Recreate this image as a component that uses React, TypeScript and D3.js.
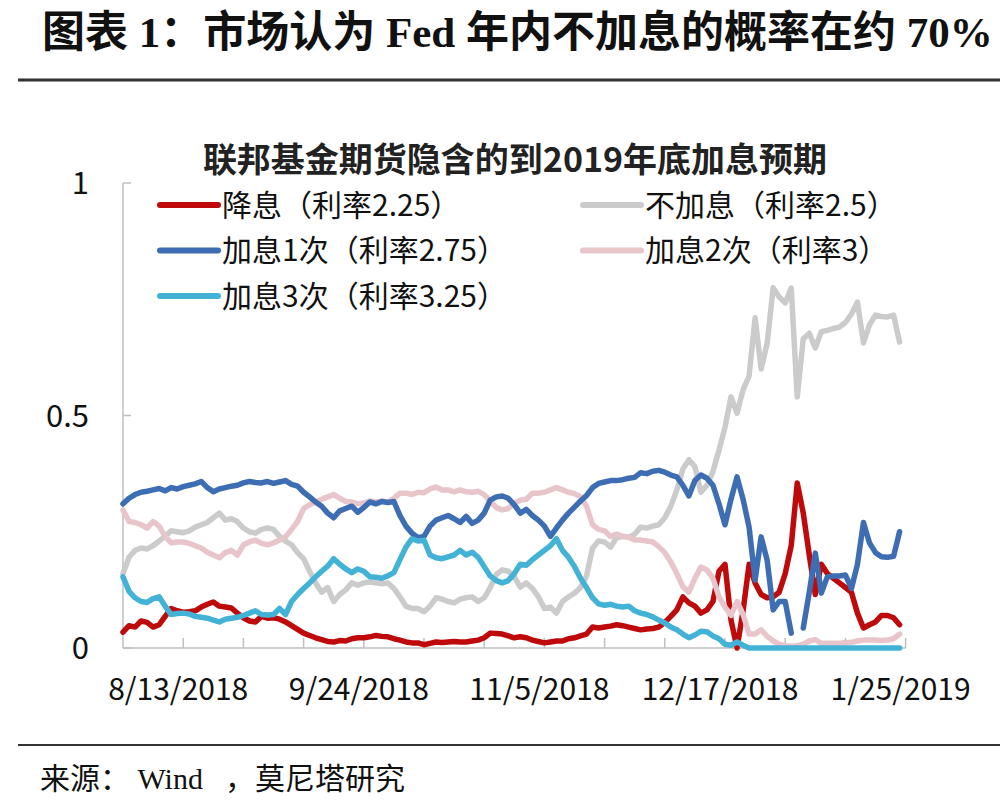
import React from "react";
import * as d3 from "d3";

// ---- data ----
const tickLabels = ["8/13/2018", "9/24/2018", "11/5/2018", "12/17/2018", "1/25/2019"];
const tickLabelIndex = [10, 40, 70, 100, 130];
const yTicks = [0, 0.5, 1];
const yTickLabels = ["0", "0.5", "1"];

// 降息（利率2.25）
const cutRate: (number | null)[] = [
  0.034, 0.048, 0.045, 0.058, 0.055, 0.045, 0.05, 0.068, 0.085, 0.08,
  0.077, 0.078, 0.08, 0.088, 0.094, 0.099, 0.09, 0.088, 0.086, 0.075,
  0.065, 0.058, 0.056, 0.068, 0.064, 0.065, 0.062, 0.056, 0.048, 0.04,
  0.032, 0.027, 0.022, 0.018, 0.014, 0.013, 0.016, 0.015, 0.02, 0.022,
  0.022, 0.024, 0.027, 0.025, 0.024, 0.02, 0.017, 0.013, 0.011, 0.011,
  0.007, 0.01, 0.013, 0.012, 0.013, 0.014, 0.013, 0.013, 0.015, 0.017,
  0.022, 0.032, 0.031, 0.03, 0.026, 0.022, 0.024, 0.022, 0.017, 0.014,
  0.011, 0.013, 0.015, 0.015, 0.02, 0.022, 0.026, 0.03, 0.045, 0.043,
  0.045, 0.047, 0.05, 0.048, 0.045, 0.042, 0.039, 0.041, 0.042, 0.045,
  0.055, 0.068, 0.082, 0.11, 0.097, 0.09, 0.075, 0.082, 0.1, 0.165,
  0.18, 0.06, 0.0, 0.08, 0.18, 0.14, 0.115, 0.108, 0.11, 0.12,
  0.16, 0.22, 0.355, 0.29, 0.2, 0.115, 0.18, 0.16, 0.15, 0.14,
  0.13, 0.12, 0.075, 0.043, 0.05, 0.056, 0.07, 0.07, 0.065, 0.05,
];

// 不加息（利率2.5）
const noHike: (number | null)[] = [
  0.16, 0.195, 0.21, 0.215, 0.213, 0.22, 0.23, 0.24, 0.252, 0.25,
  0.248, 0.252, 0.26, 0.265, 0.27, 0.28, 0.29, 0.275, 0.278, 0.272,
  0.258, 0.25, 0.247, 0.255, 0.258, 0.255, 0.24, 0.23, 0.222, 0.205,
  0.192, 0.165, 0.14, 0.12, 0.13, 0.1, 0.115, 0.125, 0.14, 0.135,
  0.14, 0.142, 0.14, 0.138, 0.14, 0.128, 0.11, 0.09, 0.085, 0.085,
  0.078, 0.09, 0.108, 0.105, 0.1, 0.097, 0.105, 0.108, 0.11, 0.1,
  0.108, 0.13, 0.158, 0.168, 0.165, 0.153, 0.131, 0.14, 0.128, 0.11,
  0.085, 0.088, 0.075, 0.1, 0.11, 0.118, 0.13, 0.155, 0.215, 0.23,
  0.228, 0.217, 0.237, 0.24, 0.238, 0.245, 0.26, 0.258, 0.262, 0.265,
  0.28, 0.305, 0.34, 0.385, 0.405, 0.39, 0.335, 0.35, 0.38, 0.425,
  0.475, 0.54, 0.505, 0.555, 0.585, 0.71, 0.6, 0.655, 0.775, 0.755,
  0.742, 0.774, 0.54, 0.665, 0.677, 0.645, 0.68, 0.683, 0.687, 0.69,
  0.7, 0.718, 0.744, 0.656, 0.695, 0.716, 0.713, 0.712, 0.716, 0.658,
];

// 加息1次（利率2.75）
const hikeOnce: (number | null)[] = [
  0.31, 0.322, 0.33, 0.335, 0.337, 0.34, 0.343, 0.338, 0.345, 0.342,
  0.347, 0.35, 0.353, 0.358, 0.345, 0.336, 0.342, 0.345, 0.348, 0.35,
  0.355, 0.358, 0.356, 0.355, 0.358, 0.354, 0.357, 0.36, 0.352, 0.348,
  0.335, 0.325, 0.314, 0.305, 0.29, 0.28, 0.295, 0.3, 0.305, 0.292,
  0.302, 0.314, 0.31, 0.315, 0.313, 0.315, 0.285, 0.262, 0.247, 0.237,
  0.24, 0.262, 0.275, 0.28, 0.285, 0.278, 0.27, 0.283, 0.268, 0.275,
  0.29, 0.318, 0.325, 0.327, 0.322, 0.308, 0.29, 0.298, 0.285, 0.275,
  0.262, 0.24, 0.258, 0.275, 0.29, 0.303, 0.316, 0.328, 0.345, 0.354,
  0.357, 0.36, 0.36, 0.362, 0.365, 0.367, 0.377, 0.375, 0.38, 0.382,
  0.378, 0.372, 0.368, 0.35, 0.327, 0.36, 0.372, 0.365, 0.35, 0.31,
  0.265, 0.32, 0.368, 0.32, 0.26, 0.146, 0.239, 0.189, 0.082, 0.1,
  0.1, 0.032, null, 0.043, 0.12, 0.204, 0.118, 0.153, 0.155, 0.155,
  0.157, 0.128, 0.18, 0.27, 0.226, 0.205, 0.196, 0.195, 0.197, 0.25,
];

// 加息2次（利率3）
const hikeTwice: (number | null)[] = [
  0.297, 0.272, 0.27, 0.265, 0.258, 0.272, 0.262, 0.24, 0.226, 0.228,
  0.228, 0.225, 0.22, 0.215, 0.206, 0.2, 0.194, 0.205, 0.21, 0.2,
  0.222, 0.228, 0.232, 0.225, 0.222, 0.226, 0.232, 0.239, 0.255, 0.272,
  0.3, 0.308, 0.314, 0.32, 0.325, 0.33, 0.322, 0.315, 0.314, 0.31,
  0.312, 0.316, 0.314, 0.316, 0.314, 0.322, 0.333, 0.333, 0.33, 0.335,
  0.334, 0.342, 0.346, 0.34, 0.34, 0.336, 0.34, 0.336, 0.335, 0.337,
  0.33, 0.316, 0.302, 0.297, 0.3, 0.312, 0.318, 0.32, 0.333, 0.333,
  0.335, 0.34, 0.345, 0.34, 0.335, 0.332, 0.325, 0.305, 0.265, 0.255,
  0.252, 0.24, 0.245, 0.24, 0.238, 0.232, 0.232, 0.23, 0.228, 0.218,
  0.205, 0.185, 0.16, 0.132, 0.12, 0.15, 0.174, 0.168, 0.15, 0.11,
  0.088, 0.07, 0.1, 0.072, 0.03, 0.03, 0.039, 0.025, 0.015, 0.008,
  0.005, 0.004, 0.005, 0.008, 0.015, 0.018, 0.01, 0.01, 0.01, 0.01,
  0.012, 0.012, 0.015, 0.017, 0.017, 0.017, 0.016, 0.017, 0.02, 0.03,
];

// 加息3次（利率3.25）
const hikeThrice: (number | null)[] = [
  0.153, 0.122, 0.108, 0.1, 0.098, 0.106, 0.11, 0.09, 0.072, 0.074,
  0.075, 0.073, 0.068, 0.066, 0.064, 0.06, 0.056, 0.062, 0.064, 0.066,
  0.07, 0.075, 0.08, 0.072, 0.071, 0.072, 0.085, 0.072, 0.1, 0.115,
  0.128, 0.14, 0.153, 0.165, 0.176, 0.192, 0.18, 0.17, 0.162, 0.17,
  0.165, 0.153, 0.152, 0.15, 0.155, 0.162, 0.19, 0.217, 0.235, 0.23,
  0.232, 0.2, 0.194, 0.192, 0.196, 0.2, 0.21, 0.2, 0.206, 0.195,
  0.175, 0.155, 0.145, 0.14, 0.145, 0.16, 0.18, 0.178, 0.19, 0.2,
  0.21, 0.22, 0.235, 0.21, 0.195, 0.175, 0.15, 0.13, 0.108, 0.095,
  0.092, 0.094, 0.09, 0.088, 0.09, 0.08, 0.075, 0.072, 0.067, 0.06,
  0.054, 0.045, 0.039, 0.03, 0.022, 0.028, 0.036, 0.035, 0.026, 0.02,
  0.008, 0.006, 0.013, 0.006, 0, 0, 0, 0, 0, 0,
  0, 0, 0, 0, 0, 0, 0, 0, 0, 0,
  0, 0, 0, 0, 0, 0, 0, 0, 0, 0,
];

const seriesNames = [
  "降息（利率2.25）",
  "不加息（利率2.5）",
  "加息1次（利率2.75）",
  "加息2次（利率3）",
  "加息3次（利率3.25）",
];
const seriesColors = ["#BE0A0A", "#CBCBCB", "#3D6DB2", "#E7C5CA", "#42B2D7"];
const seriesData = [cutRate, noHike, hikeOnce, hikeTwice, hikeThrice];
// drawing order (back to front)
const drawOrder = [0, 1, 3, 2, 4];

const CJK = "'Noto Sans CJK SC', 'Noto Sans', sans-serif";
const SERIF = "'Liberation Serif', 'Noto Sans CJK SC', serif";

export default function App() {
  const x = d3.scaleLinear().domain([0, 130]).range([123, 905.6]);
  const y = d3.scaleLinear().domain([0, 1]).range([648, 183]);
  const line = d3
    .line<number | null>()
    .defined((d) => d !== null)
    .x((_, i) => x(i))
    .y((d) => y(d as number));

  const minorTicks = d3.range(10, 131, 10);

  // legend layout: two columns, three rows
  const legendPos = [
    { lx: 160, row: 0 },
    { lx: 583, row: 0 },
    { lx: 160, row: 1 },
    { lx: 583, row: 1 },
    { lx: 160, row: 2 },
  ];
  const legendRowY = (r: number) => 205 + r * 45.5;

  return (
    <svg
      width={1000}
      height={810}
      style={{ position: "absolute", left: 0, top: 0, background: "#fff" }}
    >
      <rect x={0} y={0} width={1000} height={810} fill="#fff" />
      {/* main title */}
      <text
        x={42}
        y={47}
        fontFamily={SERIF}
        fontWeight="bold"
        fontSize={43}
        fill="#111"
      >
        图表 1：市场认为 Fed 年内不加息的概率在约 70%
      </text>
      <line x1={18} x2={1000} y1={80} y2={80} stroke="#333" strokeWidth={3} />

      {/* chart title */}
      <text
        x={515}
        y={172}
        textAnchor="middle"
        fontFamily={CJK}
        fontWeight="bold"
        fontSize={34}
        fill="#222"
      >
        联邦基金期货隐含的到2019年底加息预期
      </text>

      {/* axes */}
      <line x1={x(0)} x2={x(0)} y1={y(1)} y2={y(0)} stroke="#BFBFBF" strokeWidth={1.5} />
      <line x1={x(0)} x2={x(130)} y1={y(0)} y2={y(0)} stroke="#BFBFBF" strokeWidth={1.5} />
      {yTicks.map((t, i) => (
        <g key={"yt" + i}>
          <line x1={x(0)} x2={x(0) + 8} y1={y(t)} y2={y(t)} stroke="#BFBFBF" strokeWidth={1.5} />
          <text
            x={89}
            y={y(t)}
            dy="0.36em"
            textAnchor="end"
            fontFamily={CJK}
            fontSize={31}
            fill="#111"
          >
            {yTickLabels[i]}
          </text>
        </g>
      ))}
      {minorTicks.map((t) => (
        <line
          key={"xt" + t}
          x1={x(t)}
          x2={x(t)}
          y1={y(0)}
          y2={y(0) - 10}
          stroke="#BFBFBF"
          strokeWidth={1.5}
        />
      ))}
      {tickLabels.map((lab, i) => (
        <text
          key={"xl" + i}
          x={x(tickLabelIndex[i])}
          dx={-5}
          y={700}
          textAnchor="middle"
          fontFamily={CJK}
          fontSize={30}
          fill="#111"
        >
          {lab}
        </text>
      ))}

      {/* series */}
      {drawOrder.map((si) => (
        <path
          key={"s" + si}
          d={line(seriesData[si]) || ""}
          fill="none"
          stroke={seriesColors[si]}
          strokeWidth={5.5}
          strokeLinejoin="round"
          strokeLinecap="round"
        />
      ))}

      {/* legend */}
      {seriesNames.map((name, i) => {
        const p = legendPos[i];
        const ly = legendRowY(p.row);
        return (
          <g key={"lg" + i}>
            <line
              x1={p.lx}
              x2={p.lx + 58}
              y1={ly}
              y2={ly}
              stroke={seriesColors[i]}
              strokeWidth={6}
              strokeLinecap="round"
            />
            <text
              x={p.lx + 62}
              y={ly}
              dy="0.36em"
              fontFamily={CJK}
              fontSize={30}
              fill="#111"
            >
              {name}
            </text>
          </g>
        );
      })}

      {/* footer */}
      <line x1={18} x2={1000} y1={745} y2={745} stroke="#333" strokeWidth={2} />
      <text x={40} y={789} fontFamily={SERIF} fontSize={30} fill="#111">
        来源： Wind
        <tspan dx={22}>，莫尼塔研究</tspan>
      </text>
    </svg>
  );
}
